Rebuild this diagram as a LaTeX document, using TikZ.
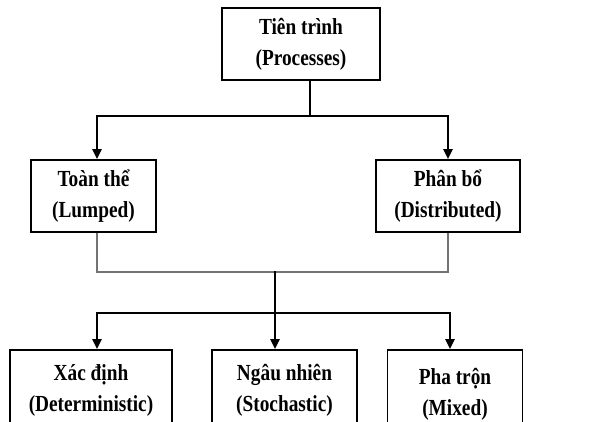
\documentclass[tikz,border=0pt]{standalone}
\usepackage{fontspec}
\setmainfont{Liberation Serif}[FakeStretch=0.84]
\usepackage{tikz}
\usetikzlibrary{calc,arrows.meta}

\begin{document}
\begin{tikzpicture}[x=1pt,y=-1pt,
    box/.style={draw, line width=1.8pt, align=center, inner sep=0pt,
                minimum height=72pt, font=\fontsize{23}{31}\selectfont\bfseries},
    link/.style={line width=2.6pt, -{Triangle[length=10pt,width=9pt]}},
    greyline/.style={line width=1.6pt, draw=black!55}]
    \useasboundingbox (0,0) rectangle (595,421);
    \node[box, minimum width=158pt] (proc) at (301,44)   {Tiên trình\\(Processes)};
    \node[box, minimum width=125pt] (lump) at (93.5,196) {Toàn thể\\(Lumped)};
    \node[box, minimum width=144pt] (dist) at (448,196)  {Phân bổ\\(Distributed)};
    \node[box, minimum width=162pt, minimum height=80pt] (det) at (91,390)    {Xác định\\(Deterministic)};
    \node[box, minimum width=145pt, minimum height=80pt] (sto) at (284.5,390) {Ngâu nhiên\\(Stochastic)};
    \node[box, minimum width=135pt, minimum height=88pt] (mix) at (455,394)   {Pha trộn\\(Mixed)};
    % first split
    \coordinate (top) at ([xshift=9pt]proc.south);
    \coordinate (split) at ($(top)+(0,35)$);
    \draw[line width=2.6pt] (top) -- (split);
    \draw[link] (split) -| ([xshift=3.5pt]lump.north);
    \draw[link] (split) -| (dist.north);
    % grey join
    \draw[greyline] ([xshift=3.5pt]lump.south) -- ++(0,39) -| (dist.south);
    % second split
    \coordinate (mid) at (275,271);
    \coordinate (split2) at (275,313);
    \draw[link] (mid) -- (sto.north -| mid);
    \draw[link] (split2) -| ([xshift=6pt]det.north);
    \draw[link] (split2) -| ([xshift=-5pt]mix.north);
\end{tikzpicture}
\end{document}
